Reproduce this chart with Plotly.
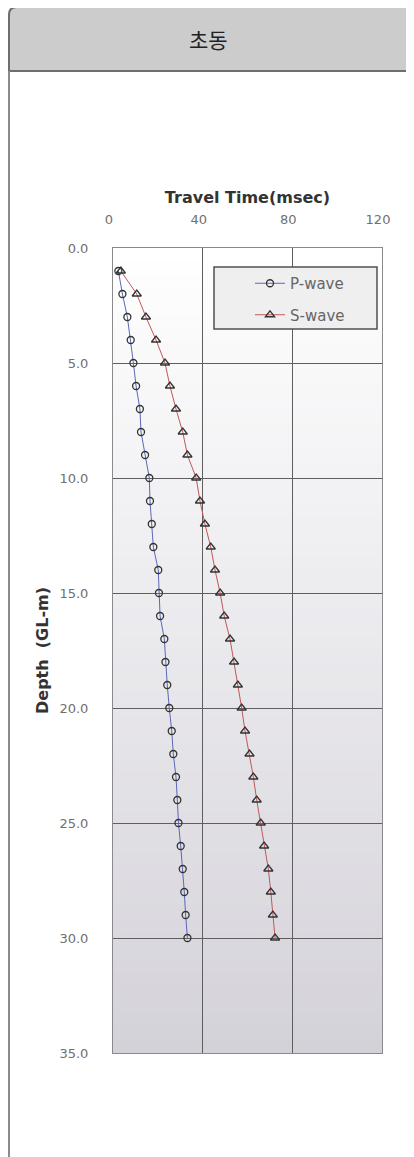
import plotly.graph_objects as go

# ---- data ----
depth_m = [1, 2, 3, 4, 5, 6, 7, 8, 9, 10, 11, 12, 13, 14, 15,
           16, 17, 18, 19, 20, 21, 22, 23, 24, 25, 26, 27, 28, 29, 30]
p_wave_ms = [2.4, 4.2, 6.4, 7.9, 9.1, 10.3, 12.0, 12.5, 14.3, 16.2,
             16.5, 17.3, 18.0, 20.2, 20.5, 21.0, 22.9, 23.4, 24.2, 25.1,
             26.2, 26.9, 28.1, 28.7, 29.2, 30.2, 31.1, 31.8, 32.4, 33.2]
s_wave_ms = [3.5, 10.6, 14.7, 19.2, 23.2, 25.4, 28.1, 31.1, 33.2, 37.1,
             38.8, 41.0, 43.6, 45.5, 47.8, 49.6, 52.2, 54.0, 55.7, 57.4,
             58.9, 60.9, 62.6, 64.1, 65.9, 67.4, 69.3, 70.4, 71.3, 72.3]
x_ticks = [0, 40, 80, 120]
y_ticks = [0, 5, 10, 15, 20, 25, 30, 35]
header_title = "초동"

# page has an 8px body margin: figure origin sits at page (8, 8)
OFF = 8
W, H = 414 - OFF, 1157 - OFF
ML, MR, MT, MB = 113 - OFF, 32, 248 - OFF, 104
PW, PH = W - ML - MR, H - MT - MB


def px(x):  # page x -> paper x
    return (x - OFF - ML) / PW


def py(y):  # page y -> paper y
    return (H - MB - (y - OFF)) / PH


fig = go.Figure()

fig.add_trace(go.Scatter(
    x=p_wave_ms, y=depth_m, name="P-wave", mode="lines+markers",
    legendgroup="p",
    line=dict(color="#5a68b8", width=1),
    marker=dict(symbol="circle-open", size=7, color="#333333",
                line=dict(width=1.3)),
))
fig.add_trace(go.Scatter(
    x=s_wave_ms, y=depth_m, name="S-wave", mode="lines+markers",
    legendgroup="s",
    line=dict(color="#c05858", width=1),
    marker=dict(symbol="triangle-up-open", size=8, color="#333333",
                line=dict(width=1.3)),
))

shapes = []
# plot-area vertical gradient (white -> light lavender grey)
n = 60
c0 = (255, 255, 255)
c1 = (212, 210, 217)
for i in range(n):
    t = (i + 0.5) / n
    c = tuple(round(c0[k] + (c1[k] - c0[k]) * t) for k in range(3))
    shapes.append(dict(type="rect", xref="paper", yref="paper",
                       x0=0, x1=1, y0=1 - (i + 1) / n - 0.001, y1=1 - i / n,
                       fillcolor="rgb(%d,%d,%d)" % c, line=dict(width=0),
                       layer="below"))

# header box with rounded top-left corner
hx0, hx1 = px(OFF + 1), px(440)
hy0, hy1 = py(71), py(7)
rx, ry = 8 / PW, 8 / PH
path = (f"M {hx0},{hy0} L {hx0},{hy1 - ry} Q {hx0},{hy1} {hx0 + rx},{hy1} "
        f"L {hx1},{hy1} L {hx1},{hy0} Z")
shapes.append(dict(type="path", xref="paper", yref="paper", path=path,
                   fillcolor="#cccccc", line=dict(color="#6e6e6e", width=2),
                   layer="below"))
# card left border below header
shapes.append(dict(type="line", xref="paper", yref="paper",
                   x0=hx0, x1=hx0, y0=py(71), y1=py(1200),
                   line=dict(color="#8a8a8a", width=2), layer="below"))

# legend box
shapes.append(dict(type="rect", xref="paper", yref="paper",
                   x0=px(214), x1=px(377), y0=py(329), y1=py(267),
                   fillcolor="#efefef", line=dict(color="#505050", width=1.5),
                   layer="above"))

fig.update_layout(
    width=W, height=H,
    margin=dict(l=ML, r=MR, t=MT, b=MB, pad=0),
    paper_bgcolor="white",
    plot_bgcolor="rgba(0,0,0,0)",
    shapes=shapes,
    showlegend=True,
    legend=dict(x=px(250), y=py(267), xanchor="left", yanchor="top",
                bgcolor="rgba(0,0,0,0)", borderwidth=0,
                tracegroupgap=9,
                font=dict(family="DejaVu Sans", size=15, color="#666666")),
    annotations=[dict(text=header_title, xref="paper", yref="paper",
                      x=px(208), y=py(39), xanchor="center", yanchor="middle",
                      showarrow=False,
                      font=dict(family="Noto Sans CJK KR", size=21,
                                color="#222222"))],
    font=dict(family="DejaVu Sans"),
)

fig.update_xaxes(
    range=[0, 120], side="top", tickvals=x_ticks,
    ticktext=[str(v) for v in x_ticks],
    ticks="", ticklabelstandoff=18, ticklabelshift=-4,
    tickfont=dict(family="DejaVu Sans", size=13, color="#707070"),
    showgrid=True, gridcolor="#5e5e5e", gridwidth=1,
    showline=True, linecolor="#8a8a8a", linewidth=1, mirror=True,
    zeroline=False,
    title=dict(text="Travel Time(msec)", standoff=4,
               font=dict(family="DejaVu Sans", size=16, color="#333333",
                         weight="bold")),
)
fig.update_yaxes(
    range=[35, 0], tickvals=y_ticks,
    ticktext=["%.1f" % v for v in y_ticks],
    ticks="", ticklabelstandoff=21,
    tickfont=dict(family="DejaVu Sans", size=13, color="#707070"),
    showgrid=True, gridcolor="#5e5e5e", gridwidth=1,
    showline=True, linecolor="#8a8a8a", linewidth=1, mirror=True,
    zeroline=False,
    title=dict(text="Depth  (GL-m)", standoff=6,
               font=dict(family="DejaVu Sans", size=16, color="#333333",
                         weight="bold")),
)

fig.write_html("out.html")
